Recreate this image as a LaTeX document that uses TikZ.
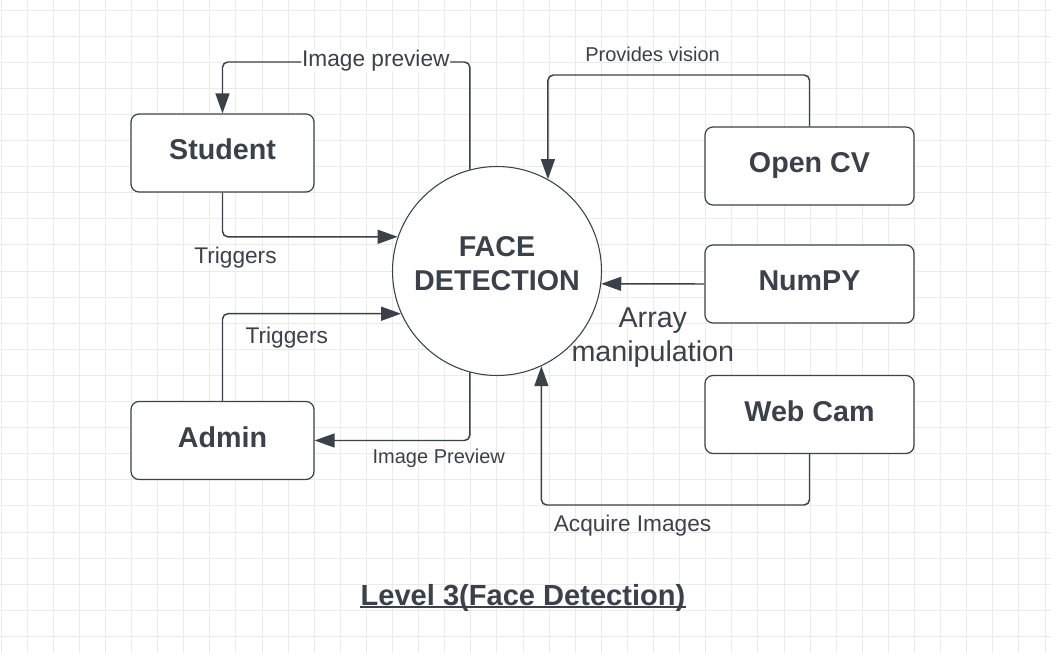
\documentclass[tikz,border=0pt]{standalone}
\usepackage{fontspec}
\setmainfont{Liberation Sans}
\usepackage{tikz}
\usetikzlibrary{arrows.meta}
\definecolor{ink}{HTML}{3A414A}
\definecolor{gridgray}{HTML}{EBEBEB}

\begin{document}
\begin{tikzpicture}[x=0.75pt,y=0.75pt,yscale=-1,xscale=1,
    gridline/.style={draw=gridgray, line width=0.75pt},
    entity/.style={draw=ink, line width=0.9pt, rounded corners=6pt, fill=white, text=ink,
        minimum height=58.5pt, text depth=5.25pt, font=\fontsize{21.5}{25.5}\selectfont\bfseries},
    process/.style={draw=ink, line width=0.8pt, circle, fill=white, minimum size=156.75pt, inner sep=0pt},
    flow/.style={draw=ink, line width=1.1pt, rounded corners=4pt, -{Triangle[length=15pt,width=10.5pt]}},
    flowlbl/.style={text=ink, inner sep=0.5pt, font=\fontsize{17}{20}\selectfont},
    smalllbl/.style={text=ink, inner sep=0.5pt, font=\fontsize{15}{18}\selectfont},
    biglbl/.style={text=ink, align=center, inner sep=0pt, font=\fontsize{21.5}{25.5}\selectfont}
    ]
    \useasboundingbox (0,0) rectangle (1051,653);

    %Grid
    \foreach \gx in {0,...,40} \draw[gridline] (1+26.1*\gx,0) -- (1+26.1*\gx,653);
    \foreach \gy in {0,...,24} \draw[gridline] (0,10+26.1*\gy) -- (1051,10+26.1*\gy);

    %Shape: Circle
    \node[process] (fd) at (497,271) {};
    \node[biglbl, font=\fontsize{21.5}{25.5}\selectfont\bfseries] (fdtxt) at ([yshift=-5.25pt]fd.center) {FACE\\DETECTION};

    %Shape: Rectangle
    \node[entity, minimum width=137.25pt] (stud) at (222.5,153) {Student};
    \node[entity, minimum width=137.25pt] (adm) at (222.5,440.5) {Admin};
    \node[entity, minimum width=156.75pt] (ocv) at (809.5,166) {Open CV};
    \node[entity, minimum width=156.75pt] (npy) at (809.5,284) {NumPY};
    \node[entity, minimum width=156.75pt] (wcm) at (809.5,414.5) {Web Cam};

    % route levels
    \coordinate (prvrow) at (0,62);
    \coordinate (visrow) at (0,75);
    \coordinate (acqrow) at (0,505);

    %Connector: Image preview
    \draw[flow] (fd.105) -- (fd.105 |- prvrow) -| node[flowlbl, fill=white, pos=0.19, yshift=1pt] {Image preview} (stud.north);
    %Connector: Student triggers
    \draw[flow] (stud.south) |- node[flowlbl, pos=0.537, yshift=-15.75pt] {Triggers} (fd.161);
    %Connector: Admin triggers
    \draw[flow] (adm.north) |- node[flowlbl, pos=0.68, yshift=-18pt] {Triggers} (fd.204);
    %Connector: Image Preview
    \draw[flow] (fd.255) |- node[smalllbl, pos=0.6, yshift=-13.5pt] {Image Preview} (adm.east);
    %Connector: Provides vision
    \draw[flow] (ocv.north) -- (ocv.north |- visrow) -| node[smalllbl, pos=0.3, yshift=15.4pt] {Provides vision} (fd.61.4);
    %Connector: Array manipulation
    \draw[flow] (npy.west) -- node[biglbl, midway, yshift=-40pt] {Array\\manipulation} (fd.-7.1);
    %Connector: Acquire Images
    \draw[flow] (wcm.south) -- (wcm.south |- acqrow) -| node[flowlbl, pos=0.33, yshift=-15.4pt] {Acquire Images} (fd.-65.7);

    % Title
    \node[anchor=base, inner sep=0pt, text=ink, font=\fontsize{21.8}{26}\selectfont\bfseries] (ttl) at (523,605) {Level 3(Face Detection)};
    \draw[ink, line width=1.5pt] ([yshift=1.5pt]ttl.base west) -- ([yshift=1.5pt]ttl.base east);
\end{tikzpicture}
\end{document}
